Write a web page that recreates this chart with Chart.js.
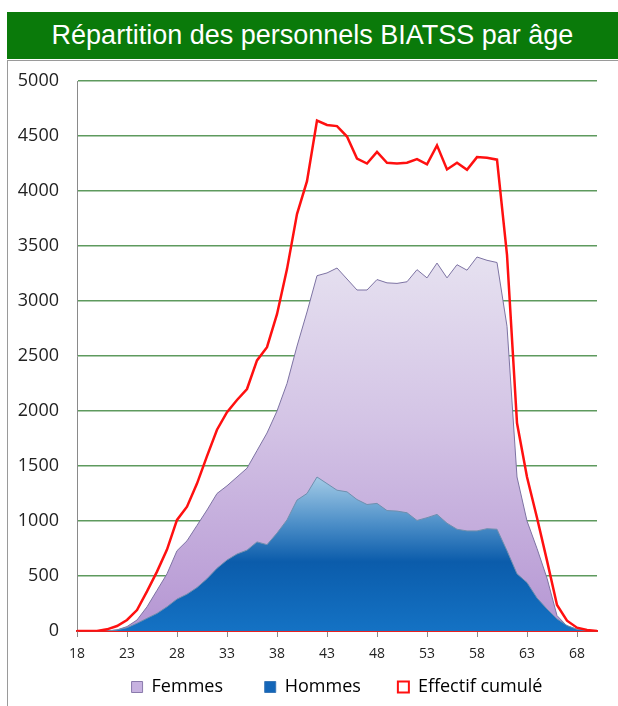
<!DOCTYPE html>
<html lang="fr">
<head>
    <meta charset="UTF-8">
    <title>Répartition des personnels BIATSS par âge</title>
    <script src="https://cdn.jsdelivr.net/npm/chart.js@4.4.3/dist/chart.umd.min.js"></script>
    <style>
        body {
            margin: 0;
            background: #ffffff;
            width: 618px;
            height: 706px;
            overflow: hidden;
            position: relative;
        }
        /* green title band */
        #title-bar {
            position: absolute;
            left: 7px;
            top: 12px;
            width: 611px;
            height: 47px;
            background: #0a7a0a;
            color: #ffffff;
            font-family: "Liberation Sans", Arial, sans-serif;
            font-size: 27px;
            line-height: 47px;
            text-align: center;
        }
        /* chart frame, only the top and left edges show */
        #chart-box {
            position: absolute;
            left: 7px;
            top: 60px;
            width: 611px;
            height: 646px;
            border-left: 1px solid #9a9a9a;
            border-top: 1px solid #9a9a9a;
        }
        #chart-wrap {
            position: relative;
            width: 610px;
            height: 645px;
        }
    </style>
</head>
<body>
    <div id="title-bar">Répartition des personnels BIATSS par âge</div>
    <div id="chart-box">
        <div id="chart-wrap">
            <canvas id="age-chart"></canvas>
        </div>
    </div>

    <script>
        // Ages (category axis)
        const ages = ['18', '19', '20', '21', '22', '23', '24', '25', '26', '27',
                      '28', '29', '30', '31', '32', '33', '34', '35', '36', '37',
                      '38', '39', '40', '41', '42', '43', '44', '45', '46', '47',
                      '48', '49', '50', '51', '52', '53', '54', '55', '56', '57',
                      '58', '59', '60', '61', '62', '63', '64', '65', '66', '67',
                      '68', '69', '70'];

        // Femmes
        const femmes = [0, 0, 0, 0, 10, 40, 100, 220, 370, 520,
                        730, 820, 960, 1100, 1250, 1320, 1400, 1480, 1640, 1800,
                        2000, 2250, 2590, 2900, 3230, 3255, 3300, 3200, 3100, 3100,
                        3195, 3165, 3160, 3175, 3285, 3210, 3345, 3210, 3330, 3280,
                        3400, 3370, 3350, 2770, 1400, 1000, 750, 480, 140, 45,
                        15, 5, 0];

        // Hommes
        const hommes = [0, 0, 0, 0, 10, 30, 70, 115, 160, 220,
                        290, 335, 395, 475, 570, 645, 700, 735, 810, 785,
                        890, 1010, 1190, 1250, 1400, 1340, 1280, 1265, 1195, 1150,
                        1160, 1095, 1090, 1075, 1005, 1030, 1060, 980, 925, 910,
                        910, 930, 925, 730, 520, 440, 300, 200, 110, 50,
                        15, 5, 0];

        // Effectif cumulé
        const cumul = [0, 0, 0, 15, 45, 100, 190, 360, 540, 740,
                       1010, 1130, 1340, 1590, 1830, 1990, 2100, 2200, 2460, 2580,
                       2880, 3290, 3790, 4090, 4640, 4600, 4590, 4495, 4295, 4250,
                       4355, 4257, 4250, 4257, 4290, 4242, 4415, 4196, 4257, 4193,
                       4308, 4302, 4285, 3420, 1890, 1400, 1030, 640, 236, 94,
                       30, 10, 0];

        const yTicks = [0, 500, 1000, 1500, 2000, 2500, 3000, 3500, 4000, 4500, 5000];

        // legend entries; trailing no-break spaces give the wide gaps between items
        const legendNames = ['Femmes\u00a0\u00a0\u00a0\u00a0\u00a0\u00a0\u00a0',
                             'Hommes\u00a0\u00a0\u00a0\u00a0\u00a0\u00a0',
                             'Effectif cumulé'];

        // vertical gradients tied to the value scale
        function femmesFill(context) {
            const chart = context.chart;
            if (!chart.chartArea) return '#cbb8df';
            const y = chart.scales.y;
            const g = chart.ctx.createLinearGradient(0, y.getPixelForValue(3400), 0, y.getPixelForValue(0));
            g.addColorStop(0, '#e6e1f0');
            g.addColorStop(0.45, '#d3c3e5');
            g.addColorStop(1, '#b596d3');
            return g;
        }

        function hommesFill(context) {
            const chart = context.chart;
            if (!chart.chartArea) return '#1565b5';
            const y = chart.scales.y;
            const g = chart.ctx.createLinearGradient(0, y.getPixelForValue(1400), 0, y.getPixelForValue(0));
            g.addColorStop(0, '#a3cbe6');
            g.addColorStop(0.3, '#4d8fc8');
            g.addColorStop(0.55, '#0b5cab');
            g.addColorStop(1, '#1472c4');
            return g;
        }

        const fontName = '"Open Sans", Lato, sans-serif';

        new Chart(document.getElementById('age-chart'), {
            type: 'line',
            data: {
                labels: ages,
                datasets: [
                    {
                        label: 'Femmes',
                        data: femmes,
                        fill: 'origin',
                        backgroundColor: femmesFill,
                        borderColor: '#7d73a3',
                        borderWidth: 1,
                        pointRadius: 0,
                        tension: 0,
                        order: 2
                    },
                    {
                        label: 'Hommes',
                        data: hommes,
                        fill: 'origin',
                        backgroundColor: hommesFill,
                        borderColor: '#6f8fae',
                        borderWidth: 1,
                        pointRadius: 0,
                        tension: 0,
                        order: 1
                    },
                    {
                        label: 'Effectif cumulé',
                        data: cumul,
                        fill: false,
                        borderColor: '#ff1010',
                        backgroundColor: '#ffffff',
                        borderWidth: 2.5,
                        pointRadius: 0,
                        tension: 0,
                        order: 0
                    }
                ]
            },
            options: {
                responsive: true,
                maintainAspectRatio: false,
                animation: false,
                layout: {
                    padding: { top: 20, right: 21, left: 0, bottom: 0 }
                },
                plugins: {
                    title: { display: false },
                    tooltip: { enabled: false },
                    legend: {
                        position: 'bottom',
                        fullSize: false,
                        labels: {
                            color: '#222',
                            font: { family: fontName, size: 18 },
                            boxWidth: 11,
                            boxHeight: 11,
                            padding: 9,
                            generateLabels: function () {
                                return [
                                    { text: legendNames[0], fillStyle: '#c7b2e0', strokeStyle: '#8a7aac', lineWidth: 1, datasetIndex: 0, hidden: false },
                                    { text: legendNames[1], fillStyle: '#1466b8', strokeStyle: '#3a78b8', lineWidth: 1, datasetIndex: 1, hidden: false },
                                    { text: legendNames[2], fillStyle: '#ffffff', strokeStyle: '#ff1010', lineWidth: 2, datasetIndex: 2, hidden: false }
                                ];
                            }
                        }
                    }
                },
                scales: {
                    x: {
                        offset: false,
                        border: { color: '#e82020', width: 2 },
                        grid: {
                            drawOnChartArea: false,
                            drawTicks: true,
                            tickLength: 6,
                            tickColor: '#8a8a8a'
                        },
                        afterBuildTicks: function (scale) {
                            // one label every 5 years, starting at 18
                            scale.ticks = scale.ticks.filter((t, i) => i % 5 === 0);
                        },
                        afterFit: function (scale) {
                            scale.height = 38;
                        },
                        ticks: {
                            autoSkip: false,
                            maxRotation: 0,
                            padding: 9,
                            color: '#222',
                            font: { family: fontName, size: 14 }
                        }
                    },
                    y: {
                        min: 0,
                        max: 5000,
                        border: { color: '#8a8a8a', width: 1 },
                        grid: {
                            color: '#5e9a5e',
                            lineWidth: 1.5,
                            drawTicks: true,
                            tickLength: 16,
                            tickColor: 'rgba(0,0,0,0)'
                        },
                        afterBuildTicks: function (scale) {
                            scale.ticks = yTicks.map(v => ({ value: v }));
                        },
                        afterFit: function (scale) {
                            scale.width = 69;
                        },
                        ticks: {
                            padding: 2,
                            color: '#222',
                            font: { family: fontName, size: 18 },
                            callback: function (value) {
                                return String(value);
                            }
                        }
                    }
                }
            }
        });
    </script>
</body>
</html>
